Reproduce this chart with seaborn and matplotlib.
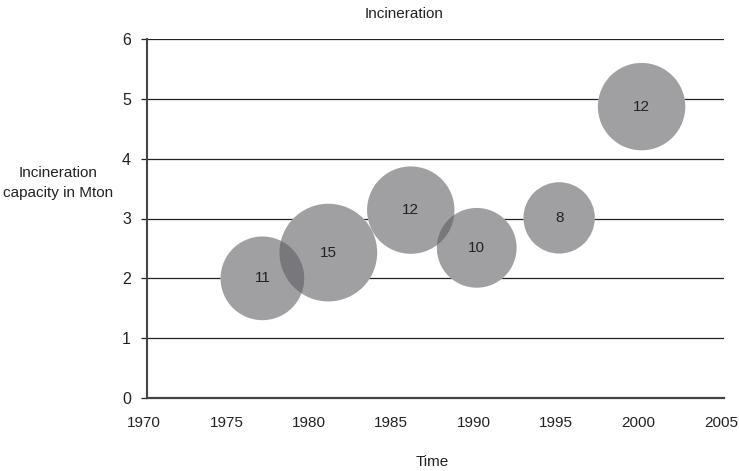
import numpy as np
import pandas as pd
import matplotlib
matplotlib.use("Agg")
import matplotlib.pyplot as plt
import matplotlib.transforms as mtransforms
import seaborn as sns

# data
years = [1977, 1981, 1986, 1990, 1995, 2000]
capacity = [2.0, 2.43, 3.14, 2.51, 3.01, 4.87]
plants = [11, 15, 12, 10, 8, 12]

df = pd.DataFrame({"year": years, "capacity": capacity, "plants": plants})

sns.set_style("white")
plt.rcParams["font.family"] = ["Liberation Sans", "DejaVu Sans"]

W, H = 739, 471
fig = plt.figure(figsize=(W / 100, H / 100), dpi=100)
ax = fig.add_axes([147 / W, 1 - 398 / H, 577 / W, 359 / H])

# bubble area proportional to value
k = 330
size_map = {v: v * k for v in set(plants)}

# white underlay hides gridlines, gray translucent layer on top
sns.scatterplot(data=df, x="year", y="capacity", size="plants", sizes=size_map,
                color="white", edgecolor="none", alpha=1, legend=False, ax=ax, zorder=3)
sns.scatterplot(data=df, x="year", y="capacity", size="plants", sizes=size_map,
                color="#5b5c61", edgecolor="none", alpha=0.58, legend=False, ax=ax, zorder=4)

for x, y, v in zip(years, capacity, plants):
    ax.text(x, y, str(v), ha="center", va="center", fontsize=11, color="#222222", zorder=5)

ax.set_xlim(1970, 2005)
ax.set_ylim(0, 6)
ax.set_xticks(range(1970, 2006, 5))
ax.set_yticks(range(0, 7))
ax.set_xlabel("")
ax.set_ylabel("")

for yv in range(1, 7):
    ax.axhline(yv, color="#222222", lw=0.9, zorder=1)

sns.despine(ax=ax, top=True, right=True)
ax.spines["left"].set_color("#444444")
ax.spines["left"].set_linewidth(1.5)
ax.spines["bottom"].set_color("#444444")
ax.spines["bottom"].set_linewidth(1.6)

ax.tick_params(axis="x", length=0, pad=13, labelsize=11, colors="#222222")
ax.tick_params(axis="y", length=4.5, width=0.9, color="#222222", pad=7, labelsize=11.5,
               labelcolor="#222222", left=True)

# shift x tick labels slightly left so 2005 stays inside
shift = mtransforms.ScaledTranslation(-3 / 100, 0, fig.dpi_scale_trans)
for lbl in ax.get_xticklabels():
    lbl.set_transform(lbl.get_transform() + shift)

fig.text(432 / W, 1 - 462 / H, "Time", ha="center", va="center", fontsize=11, color="#222222")
fig.text(58 / W, 1 - 183 / H, "Incineration\ncapacity in Mton", ha="center", va="center",
         multialignment="center", fontsize=11, color="#222222", linespacing=1.6)
fig.text(404 / W, 1 - 14 / H, "Incineration", ha="center", va="center", fontsize=11, color="#222222")

fig.savefig("out.png", dpi=100)
